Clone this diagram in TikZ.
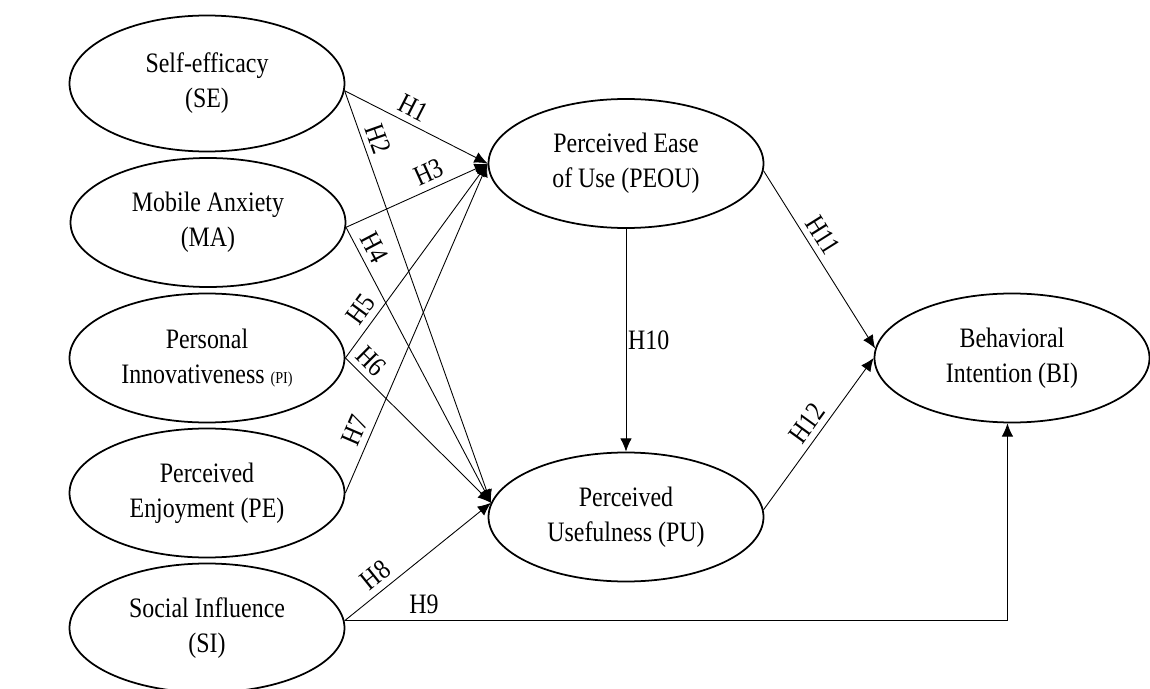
\documentclass[tikz,border=0pt]{standalone}
\usepackage{fontspec}
\setmainfont{Liberation Serif}[FakeStretch=0.85]
\usetikzlibrary{shapes.geometric}
\usetikzlibrary{arrows.meta}

\begin{document}
\begin{tikzpicture}
    \path[use as bounding box] (0.0, 0.0) rectangle (23.0, 13.76);

    \tikzset{ cs/.style ={draw, ellipse, line width=1pt, minimum width=5.5cm, minimum height=2.58cm, inner sep=0pt, align=center, font=\fontsize{16}{20}\selectfont} }
    \tikzset{ hp/.style ={->, >={Latex[length=7.5pt, width=6.5pt]}, line width=0.5pt} }
    \tikzset{ every node/.append style ={font=\fontsize{16}{18}\selectfont, inner sep=3.5pt} }

    \node[cs, minimum height=2.72cm] (se) at ( 4.14, 12.09) {Self-efficacy\\(SE)};
    \node[cs] (ma)   at ( 4.16,  9.31) {Mobile Anxiety\\(MA)};
    \node[cs] (pinn) at ( 4.14,  6.60) {Personal\\Innovativeness {\fontsize{9.5}{9.5}\selectfont (PI)}};
    \node[cs] (pe)   at ( 4.14,  3.90) {Perceived\\Enjoyment (PE)};
    \node[cs] (si)   at ( 4.14,  1.20) {Social Influence\\(SI)};
    \node[cs] (peou) at (12.52, 10.49) {Perceived Ease\\of Use (PEOU)};
    \node[cs] (pu)   at (12.52,  3.42) {Perceived\\Usefulness (PU)};
    \node[cs] (bi)   at (20.24,  6.60) {Behavioral\\Intention (BI)};

    \draw[hp] (se.-3.5)   -- (peou.west) node [pos=0.43, above, sloped] {H1};
    \draw[hp] (se.-3.5)   -- (pu.174)    node [pos=0.13, above, sloped] {H2};
    \draw[hp] (ma.-2.5)   -- (peou.west) node [pos=0.63, above, sloped] {H3};
    \draw[hp] (ma.-2.5)   -- (pu.174)    node [pos=0.10, above, sloped] {H4};
    \draw[hp] (pinn.east) -- (peou.west) node [pos=0.20, above, sloped] {H5};
    \draw[hp] (pinn.east) -- (pu.174)    node [pos=0.10, above, sloped] {H6};
    \draw[hp] (pe.east)   -- (peou.west) node [pos=0.17, above, sloped] {H7};
    \draw[hp] (si.3)      -- (pu.174)    node [pos=0.28, above, sloped] {H8};
    \draw[hp] (si.3)      -| (bi.-94)    node [pos=0.06, above] {H9};
    \draw[hp] (peou.south) -- (pu.north) node [midway, right, inner sep=1pt] {H10};
    \draw[hp] (peou.-3)   -- (bi.176)    node [pos=0.41, above, sloped] {H11};
    \draw[hp] (pu.3)      -- (bi.west)   node [pos=0.51, above, sloped] {H12};

  \end{tikzpicture}
\end{document}
